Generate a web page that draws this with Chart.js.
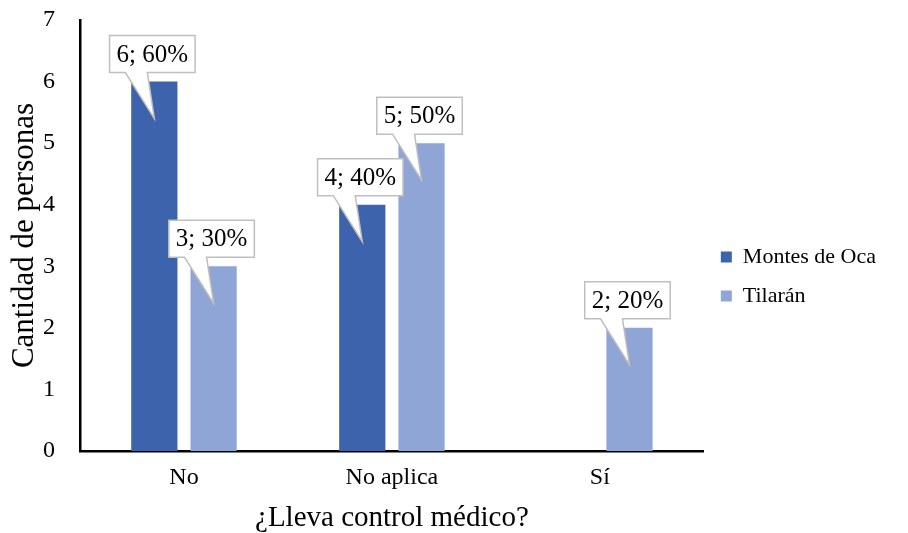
<!DOCTYPE html>
<html>
<head>
<meta charset="utf-8">
<script src="https://cdn.jsdelivr.net/npm/chart.js@4.4.0/dist/chart.umd.min.js"></script>
<style>
  html, body { margin: 0; padding: 0; background: #fff; }
  #wrap { width: 908px; height: 533px; }
</style>
</head>
<body>
<div id="wrap"><canvas id="chart" width="908" height="533"></canvas></div>
<script>
const categories = ['No', 'No aplica', 'Sí'];
const seriesNames = ['Montes de Oca', 'Tilarán'];
const montesValues = [6, 4, 0];
const tilaranValues = [3, 5, 2];
const montesPct = ['60%', '40%', ''];
const tilaranPct = ['30%', '50%', '20%'];
const yTicks = [0, 1, 2, 3, 4, 5, 6, 7];

const serif = '"Liberation Serif", "Times New Roman", serif';

// callout boxes above each bar, pointing into the bar
const calloutPlugin = {
  id: 'callouts',
  afterDatasetsDraw(chart) {
    const ctx = chart.ctx;
    const pcts = [montesPct, tilaranPct];
    ctx.save();
    ctx.font = '25px ' + serif;
    chart.data.datasets.forEach((ds, di) => {
      const meta = chart.getDatasetMeta(di);
      meta.data.forEach((bar, i) => {
        const v = ds.data[i];
        if (!v) return;
        const txt = v + '; ' + pcts[di][i];
        const w = ctx.measureText(txt).width + 14;
        const h = 37;
        const cx = bar.x - 2;
        const bottom = bar.y - 9;
        const top = bottom - h;
        const left = cx - w / 2, right = cx + w / 2;
        const tipX = bar.x, tipY = bar.y + 37;
        ctx.beginPath();
        ctx.moveTo(left, top);
        ctx.lineTo(right, top);
        ctx.lineTo(right, bottom);
        ctx.lineTo(bar.x - 7, bottom);
        ctx.lineTo(tipX, tipY);
        ctx.lineTo(bar.x - 29, bottom);
        ctx.lineTo(left, bottom);
        ctx.closePath();
        ctx.fillStyle = '#ffffff';
        ctx.fill();
        ctx.lineWidth = 1.5;
        ctx.strokeStyle = '#bfbfbf';
        ctx.stroke();
        ctx.fillStyle = '#000000';
        ctx.textAlign = 'center';
        ctx.textBaseline = 'middle';
        ctx.fillText(txt, cx, top + h / 2 + 1);
      });
    });
    ctx.restore();
  }
};

new Chart(document.getElementById('chart'), {
  type: 'bar',
  data: {
    labels: categories,
    datasets: [{
      label: seriesNames[0],
      data: montesValues,
      backgroundColor: '#3E63AD',
      categoryPercentage: 0.57,
      barPercentage: 0.78
    }, {
      label: seriesNames[1],
      data: tilaranValues,
      backgroundColor: '#8FA5D5',
      categoryPercentage: 0.57,
      barPercentage: 0.78
    }]
  },
  options: {
    responsive: false,
    animation: false,
    layout: { autoPadding: false, padding: { top: 20, left: 9, right: 22, bottom: 0 } },
    plugins: {
      legend: {
        position: 'right',
        labels: {
          font: { family: serif, size: 22 },
          color: '#000',
          boxWidth: 11,
          boxHeight: 11,
          padding: 17
        }
      },
      tooltip: { enabled: false }
    },
    scales: {
      x: {
        grid: { display: false, drawTicks: false },
        border: { display: true, color: '#000', width: 2.5 },
        ticks: { font: { family: serif, size: 24 }, color: '#000', padding: 12 },
        title: {
          display: true,
          text: '¿Lleva control médico?',
          font: { family: serif, size: 29, lineHeight: 1 },
          color: '#000',
          padding: { top: 6, bottom: 0 }
        },
        afterFit(axis) { axis.height = 82; }
      },
      y: {
        min: 0,
        max: 7,
        afterBuildTicks(axis) { axis.ticks = yTicks.map(v => ({ value: v })); },
        grid: { display: false, drawTicks: false },
        border: { display: true, color: '#000', width: 2.5 },
        ticks: { font: { family: serif, size: 24 }, color: '#000', padding: 25 },
        title: {
          display: true,
          text: 'Cantidad de personas',
          font: { family: serif, size: 31, lineHeight: 1 },
          color: '#000',
          padding: { top: 0, bottom: 0 }
        },
        afterFit(axis) {
          axis.width = 71;
          axis.paddingTop = 0;
          axis.paddingBottom = 0;
        }
      }
    }
  },
  plugins: [calloutPlugin]
});
</script>
</body>
</html>
